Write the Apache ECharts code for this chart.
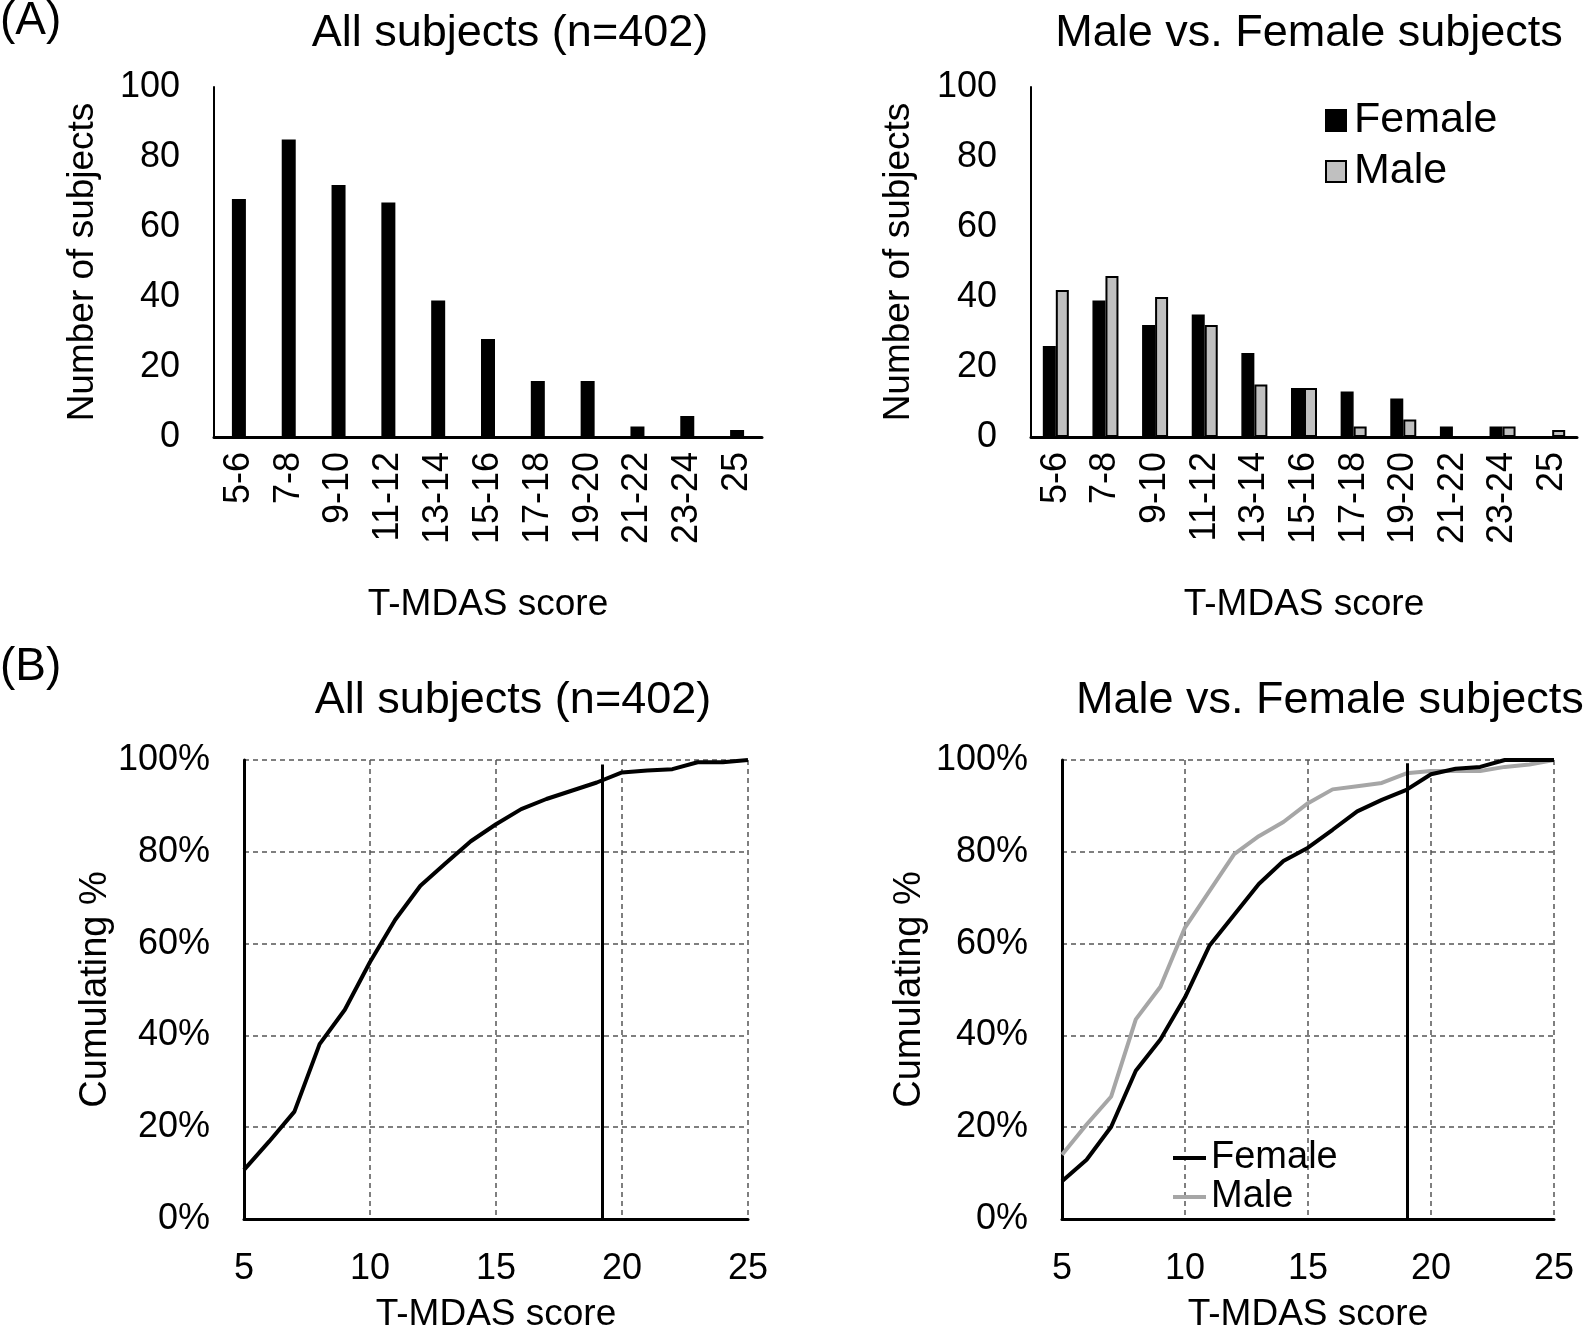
<!DOCTYPE html>
<html>
<head>
<meta charset="utf-8">
<script src="https://cdn.jsdelivr.net/npm/echarts@6/dist/echarts.min.js"></script>
<style>
  html, body { margin: 0; padding: 0; background: #fff; }
  #chart { width: 1593px; height: 1328px; }
</style>
</head>
<body>
<div id="chart"></div>
<script>
// histogram bins and counts (panel A)
var scoreBins = ['5-6', '7-8', '9-10', '11-12', '13-14', '15-16', '17-18', '19-20', '21-22', '23-24', '25'];
var allCounts = [68, 85, 72, 67, 39, 28, 16, 16, 3, 6, 2];
var femaleCounts = [26, 39, 32, 35, 24, 14, 13, 11, 3, 3, 0];
var maleCounts = [42, 46, 40, 32, 15, 14, 3, 5, 0, 3, 2];

// cumulative % by score (panel B)
var scores = [5, 6, 7, 8, 9, 10, 11, 12, 13, 14, 15, 16, 17, 18, 19, 20, 21, 22, 23, 24, 25];
var cumAll = [10.7, 16.9, 23.4, 38.1, 45.6, 56.0, 65.2, 72.6, 77.5, 82.3, 86.0, 89.3, 91.5, 93.3, 95.1, 97.3, 97.7, 98.0, 99.5, 99.5, 100];
var cumFemale = [8.2, 12.9, 20.1, 32.3, 39.1, 48.3, 59.6, 66.3, 73.0, 78.0, 80.9, 84.8, 88.8, 91.3, 93.5, 96.9, 98.1, 98.5, 100, 100, 100];
var cumMale = [14.0, 20.6, 26.7, 43.5, 50.6, 63.5, 71.5, 79.5, 83.4, 86.5, 90.6, 93.6, 94.3, 95.0, 97.1, 97.6, 97.6, 97.6, 98.5, 99.0, 100];

// cut-off lines drawn on the cumulative plots
var cutoffAll = [19.2, 99];
var cutoffSex = [19.05, 99.3];

var FONT = 'Liberation Sans, Arial, sans-serif';

function pair(xs, ys) {
  return xs.map(function (x, i) { return [x, ys[i]]; });
}

function barX(gridIndex) {
  return {
    type: 'category', gridIndex: gridIndex, data: scoreBins,
    axisLine: { lineStyle: { color: '#000', width: 3 } },
    axisTick: { show: false },
    axisLabel: { rotate: 90, margin: 15, color: '#000', fontSize: 36, fontFamily: FONT, interval: 0 },
    name: 'T-MDAS score', nameLocation: 'middle', nameGap: 149,
    nameTextStyle: { color: '#000', fontSize: 37, fontFamily: FONT }
  };
}
function barY(gridIndex, gap) {
  return {
    type: 'value', gridIndex: gridIndex, min: 0, max: 100, interval: 20,
    axisLine: { show: true, lineStyle: { color: '#000', width: 2 } },
    axisTick: { show: false },
    splitLine: { show: false },
    axisLabel: { margin: 34, color: '#000', fontSize: 36, fontFamily: FONT },
    name: 'Number of subjects', nameLocation: 'middle', nameGap: gap,
    nameTextStyle: { color: '#000', fontSize: 37, fontFamily: FONT }
  };
}
var dashed = { show: true, lineStyle: { color: '#555', width: 1.5, type: [5, 4] } };
function cumX(gridIndex) {
  return {
    type: 'value', gridIndex: gridIndex, min: 5, max: 25, interval: 5,
    axisLine: { lineStyle: { color: '#000', width: 3 } },
    axisTick: { show: false },
    splitLine: dashed,
    axisLabel: { margin: 32, color: '#000', fontSize: 36, fontFamily: FONT },
    name: 'T-MDAS score', nameLocation: 'middle', nameGap: 77,
    nameTextStyle: { color: '#000', fontSize: 37, fontFamily: FONT }
  };
}
function cumY(gridIndex, gap) {
  return {
    type: 'value', gridIndex: gridIndex, min: 0, max: 100, interval: 20,
    axisLine: { show: true, lineStyle: { color: '#000', width: 3 } },
    axisTick: { show: false },
    splitLine: dashed,
    axisLabel: { margin: 34, color: '#000', fontSize: 36, fontFamily: FONT, formatter: '{value}%' },
    name: 'Cumulating %', nameLocation: 'middle', nameGap: gap,
    nameTextStyle: { color: '#000', fontSize: 38, fontFamily: FONT }
  };
}
function cutLine(c) {
  return {
    silent: true, symbol: 'none', label: { show: false },
    lineStyle: { color: '#000', width: 3, type: 'solid' },
    data: [[{ coord: [c[0], 0] }, { coord: [c[0], c[1]] }]]
  };
}

var option = {
  animation: false,
  backgroundColor: '#fff',
  textStyle: { fontFamily: FONT },
  grid: [
    { left: 214, top: 87, width: 548, height: 350, outerBoundsMode: 'none' },
    { left: 1031, top: 87, width: 546, height: 350, outerBoundsMode: 'none' },
    { left: 244, top: 760, width: 504, height: 459, outerBoundsMode: 'none' },
    { left: 1062, top: 760, width: 492, height: 459, outerBoundsMode: 'none' }
  ],
  xAxis: [barX(0), barX(1), cumX(2), cumX(3)],
  yAxis: [barY(0, 113), barY(1, 114), cumY(2, 120), cumY(3, 133)],
  legend: [
    {
      data: ['Female', 'Male'], orient: 'vertical', left: 1320, top: 94,
      itemWidth: 20, itemHeight: 21, itemGap: 8, icon: 'rect',
      textStyle: { color: '#000', fontSize: 43, fontFamily: FONT, padding: [0, 0, 0, 3] }
    },
    {
      data: ['Female cumulative', 'Male cumulative'], orient: 'vertical', left: 1168, top: 1134,
      itemWidth: 33, itemHeight: 4, itemGap: 1, icon: 'rect',
      formatter: function (n) { return n.replace(' cumulative', ''); },
      textStyle: { color: '#000', fontSize: 38, fontFamily: FONT, padding: [0, 0, 0, 0] }
    }
  ],
  graphic: [
    { type: 'text', left: 0, top: -2, style: { text: '(A)', font: '46px ' + FONT, fill: '#000' } },
    { type: 'text', left: 0, top: 644, style: { text: '(B)', font: '46px ' + FONT, fill: '#000' } },
    { type: 'text', x: 510, y: 34, style: { text: 'All subjects (n=402)', font: '45px ' + FONT, fill: '#000', align: 'center', verticalAlign: 'middle' } },
    { type: 'text', x: 1309, y: 34, style: { text: 'Male vs. Female subjects', font: '45px ' + FONT, fill: '#000', align: 'center', verticalAlign: 'middle' } },
    { type: 'text', x: 513, y: 701, style: { text: 'All subjects (n=402)', font: '45px ' + FONT, fill: '#000', align: 'center', verticalAlign: 'middle' } },
    { type: 'text', x: 1076, y: 701, style: { text: 'Male vs. Female subjects', font: '45px ' + FONT, fill: '#000', align: 'left', verticalAlign: 'middle' } }
  ],
  series: [
    {
      type: 'bar', name: 'All', xAxisIndex: 0, yAxisIndex: 0, data: allCounts,
      barWidth: 14, itemStyle: { color: '#000' }
    },
    {
      type: 'bar', name: 'Female', xAxisIndex: 1, yAxisIndex: 1, data: femaleCounts,
      barWidth: 13, barGap: '0%', itemStyle: { color: '#000', borderColor: '#000', borderWidth: 1.5 }
    },
    {
      type: 'bar', name: 'Male', xAxisIndex: 1, yAxisIndex: 1, data: maleCounts,
      barWidth: 13, barGap: '0%', itemStyle: { color: '#c0c0c0', borderColor: '#000', borderWidth: 2 }
    },
    {
      type: 'line', name: 'All cumulative', xAxisIndex: 2, yAxisIndex: 2, data: pair(scores, cumAll),
      symbol: 'none', color: '#000', lineStyle: { color: '#000', width: 4 },
      markLine: cutLine(cutoffAll)
    },
    {
      type: 'line', name: 'Female cumulative', xAxisIndex: 3, yAxisIndex: 3, data: pair(scores, cumFemale),
      symbol: 'none', color: '#000', lineStyle: { color: '#000', width: 4 }, z: 3,
      markLine: cutLine(cutoffSex)
    },
    {
      type: 'line', name: 'Male cumulative', xAxisIndex: 3, yAxisIndex: 3, data: pair(scores, cumMale),
      symbol: 'none', color: '#a6a6a6', lineStyle: { color: '#a6a6a6', width: 4 }, z: 2
    }
  ]
};

var chart = echarts.init(document.getElementById('chart'));
chart.setOption(option);
</script>
</body>
</html>
